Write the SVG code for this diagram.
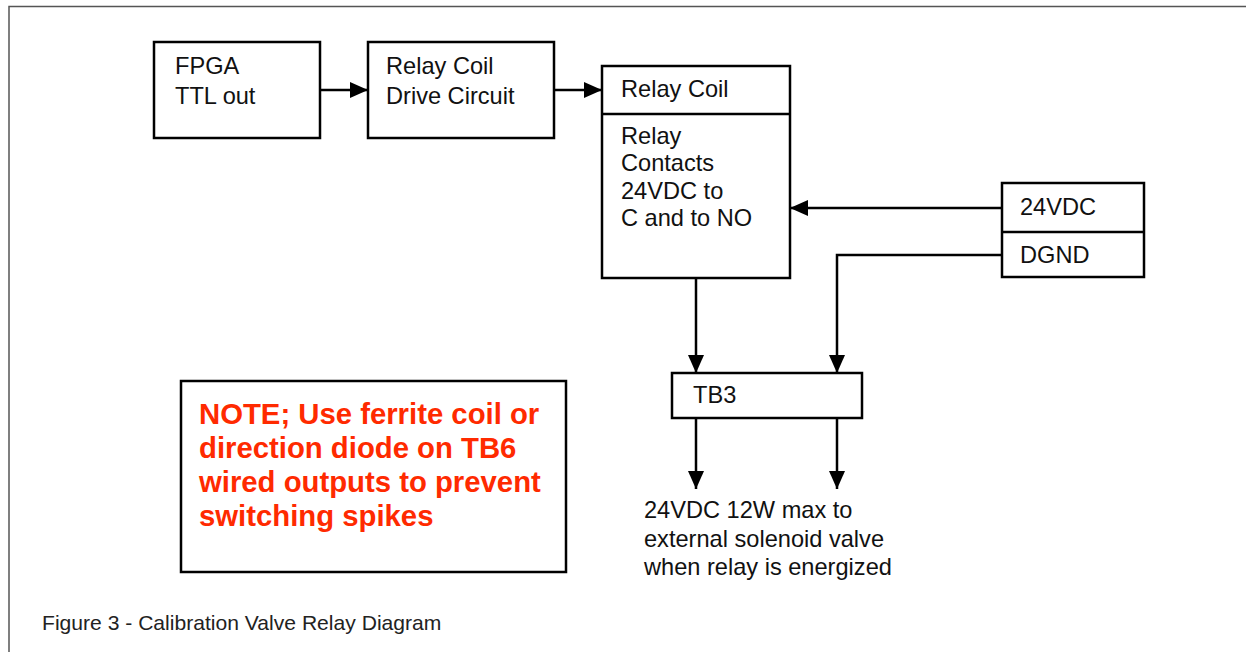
<svg xmlns="http://www.w3.org/2000/svg" width="1246" height="652" viewBox="0 0 1246 652">
<defs>
<marker id="ah" markerUnits="userSpaceOnUse" markerWidth="18" markerHeight="16" refX="18" refY="8" orient="auto">
<path d="M0,0 L18,8 L0,16 z" fill="#000"/>
</marker>
<style>
.box{fill:#fff;stroke:#000;stroke-width:2.5}
.t{font-family:"Liberation Sans",Arial,sans-serif;font-size:23.6px;fill:#111}
.note{font-family:"Liberation Sans",Arial,sans-serif;font-size:29.3px;font-weight:bold;fill:#ff2a00}
.cap{font-family:"Liberation Sans",Arial,sans-serif;font-size:21.1px;fill:#222}
.c{fill:none;stroke:#000;stroke-width:2.5;marker-end:url(#ah)}
</style>
</defs>
<rect width="1246" height="652" fill="#fff"/>
<path d="M9,652 L9,6.5 L1246,6.5" fill="none" stroke="#555" stroke-width="1.5"/>
<g id="fpga">
<rect class="box" x="154" y="42" width="166" height="96"/>
<text class="t" x="175" y="74">FPGA</text>
<text class="t" x="175" y="104">TTL out</text>
</g>
<g id="drive">
<rect class="box" x="368" y="42" width="186" height="96"/>
<text class="t" x="386" y="74">Relay Coil</text>
<text class="t" x="386" y="104">Drive Circuit</text>
</g>
<g id="relay">
<rect class="box" x="602" y="66" width="188" height="212"/>
<line x1="602" y1="114" x2="790" y2="114" stroke="#000" stroke-width="2.5"/>
<text class="t" x="621" y="97">Relay Coil</text>
<text class="t" x="621" y="144">Relay</text>
<text class="t" x="621" y="171">Contacts</text>
<text class="t" x="621" y="198.5">24VDC to</text>
<text class="t" x="621" y="226">C and to NO</text>
</g>
<g id="power">
<rect class="box" x="1002" y="183" width="142" height="94"/>
<line x1="1002" y1="232" x2="1144" y2="232" stroke="#000" stroke-width="2.5"/>
<text class="t" x="1020" y="215">24VDC</text>
<text class="t" x="1020" y="263">DGND</text>
</g>
<g id="tb3">
<rect class="box" x="672" y="373" width="190" height="45"/>
<text class="t" x="693" y="403">TB3</text>
</g>
<g id="note">
<rect class="box" x="181" y="381" width="385" height="191"/>
<text class="note" x="199" y="424">NOTE; Use ferrite coil or</text>
<text class="note" x="199" y="458">direction diode on TB6</text>
<text class="note" x="199" y="492">wired outputs to prevent</text>
<text class="note" x="199" y="526">switching spikes</text>
</g>
<g id="output">
<text class="t" x="644" y="518">24VDC 12W max to</text>
<text class="t" x="644" y="546.5">external solenoid valve</text>
<text class="t" x="644" y="575">when relay is energized</text>
</g>
<g id="connectors">
<path class="c" d="M320,90 L368,90"/>
<path class="c" d="M554,90 L602,90"/>
<path class="c" d="M1002,208 L790,208"/>
<path class="c" d="M1002,255 L837,255 L837,373"/>
<path class="c" d="M696,278 L696,373"/>
<path class="c" d="M696,418 L696,489"/>
<path class="c" d="M837,418 L837,489"/>
</g>
<g id="caption">
<text class="cap" x="42" y="630">Figure 3 - Calibration Valve Relay Diagram</text>
</g>
</svg>
